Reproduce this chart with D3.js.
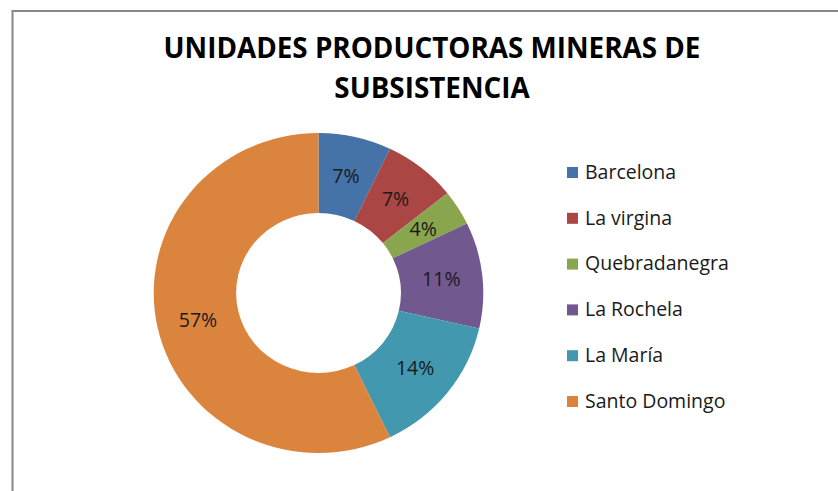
<!DOCTYPE html>
<head>
<meta charset="utf-8">
<style>
body, html {
  margin: 0;
  background: #fff;
  font-family: "Open Sans", Lato, sans-serif;
}
.title {
  font-weight: bold;
  fill: #000;
}
.slice-label, .legend text {
  fill: #1a1a1a;
}
</style>
<script src="https://d3js.org/d3.v7.min.js"></script>
</head>
<body>
<script>

// counts of mining units; the chart shows them as percentages
var categories = ["Barcelona", "La virgina", "Quebradanegra", "La Rochela", "La María", "Santo Domingo"];
var counts = [2, 2, 1, 3, 4, 16];
var colors = ["#4572A7", "#AA4643", "#89A54E", "#71588F", "#4198AF", "#DB843D"];
var titleLines = ["UNIDADES PRODUCTORAS MINERAS DE", "SUBSISTENCIA"];

var width = 838,
    height = 491;

var svg = d3.select("body").append("svg")
    .attr("width", width)
    .attr("height", height);

// frame (only top and left edges show in the window)
svg.append("rect")
    .attr("x", 12.5).attr("y", 11)
    .attr("width", 900).attr("height", 600)
    .attr("fill", "#fff")
    .attr("stroke", "#878787")
    .attr("stroke-width", 2);

// title
var title = svg.append("g");
titleLines.forEach(function(t, i) {
  title.append("text")
      .attr("class", "title")
      .attr("x", 432)
      .attr("y", 58 + i * 40)
      .attr("text-anchor", "middle")
      .style("font-size", "23px")
      .text(t);
});
// fit first line to the width of the original
var firstLine = title.select("text").node();
var w = firstLine.getComputedTextLength();
var fs = 23 * 537 / w;
title.selectAll("text").style("font-size", fs + "px");

//--------------------------------------
var cx = 318.5, cy = 293,
    rOuter = 160, rInner = 80,
    sx = 1.03;

var pie = d3.pie().sort(null).value(function(d) { return d; });
var arcs = pie(counts);
var total = d3.sum(counts);

var arc = d3.arc().innerRadius(rInner).outerRadius(rOuter);
var labelArc = d3.arc().innerRadius((rInner + rOuter) / 2).outerRadius((rInner + rOuter) / 2);

var donut = svg.append("g")
    .attr("transform", "translate(" + cx + "," + cy + ") scale(" + sx + ",1)");

donut.selectAll("path")
    .data(arcs)
    .enter().append("path")
    .attr("d", arc)
    .attr("fill", function(d, i) { return colors[i]; });

svg.append("g")
    .attr("transform", "translate(" + cx + "," + cy + ")")
    .selectAll("text")
    .data(arcs)
    .enter().append("text")
    .attr("class", "slice-label")
    .attr("transform", function(d) {
      var c = labelArc.centroid(d);
      return "translate(" + (c[0] * sx) + "," + c[1] + ")";
    })
    .attr("text-anchor", "middle")
    .attr("dy", "0.35em")
    .style("font-size", "19.5px")
    .text(function(d) { return Math.round(d.value / total * 100) + "%"; });

//--------------------------------------
var legend = svg.append("g").attr("class", "legend");
var rows = legend.selectAll("g")
    .data(categories)
    .enter().append("g")
    .attr("transform", function(d, i) { return "translate(567," + (172 + i * 45.8) + ")"; });

rows.append("rect")
    .attr("x", 0).attr("y", -5)
    .attr("width", 11).attr("height", 11)
    .attr("fill", function(d, i) { return colors[i]; });

rows.append("text")
    .attr("x", 18)
    .attr("dy", "0.35em")
    .style("font-size", "19.5px")
    .text(function(d) { return d; });

</script>
</body>
</html>
